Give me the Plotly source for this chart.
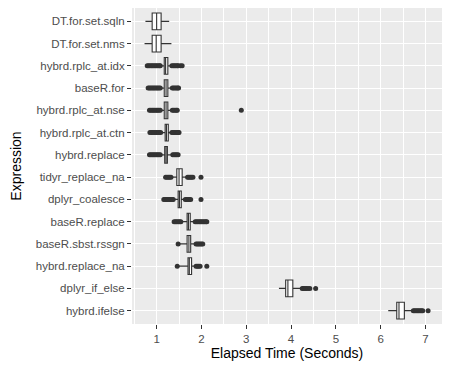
import plotly.graph_objects as go

categories = ["DT.for.set.sqln", "DT.for.set.nms", "hybrd.rplc_at.idx", "baseR.for",
              "hybrd.rplc_at.nse", "hybrd.rplc_at.ctn", "hybrd.replace", "tidyr_replace_na",
              "dplyr_coalesce", "baseR.replace", "baseR.sbst.rssgn", "hybrd.replace_na",
              "dplyr_if_else", "hybrd.ifelse"]

lower_fence = [0.75, 0.73, 1.10, 1.10, 1.10, 1.11, 1.11, 1.36, 1.40, 1.57, 1.48, 1.47, 3.73, 6.17]
q1          = [0.90, 0.90, 1.17, 1.17, 1.17, 1.19, 1.18, 1.45, 1.48, 1.68, 1.68, 1.70, 3.88, 6.36]
median      = [1.00, 0.99, 1.20, 1.21, 1.21, 1.22, 1.21, 1.50, 1.51, 1.71, 1.72, 1.73, 3.93, 6.41]
q3          = [1.10, 1.10, 1.25, 1.25, 1.25, 1.26, 1.24, 1.57, 1.55, 1.75, 1.76, 1.78, 4.04, 6.53]
upper_fence = [1.28, 1.33, 1.31, 1.32, 1.32, 1.31, 1.33, 1.67, 1.62, 1.83, 1.86, 1.86, 4.22, 6.70]

outliers = {
    "DT.for.set.sqln": [],
    "DT.for.set.nms": [],
    "hybrd.rplc_at.idx": [0.79, 0.82, 0.85, 0.88, 0.91, 0.94, 0.97, 1.00, 1.03, 1.06, 1.08,
                          1.34, 1.37, 1.40, 1.43, 1.46, 1.48, 1.53, 1.57],
    "baseR.for": [0.81, 0.84, 0.87, 0.90, 0.93, 0.96, 0.99, 1.02, 1.05, 1.08,
                  1.35, 1.38, 1.41, 1.44, 1.47, 1.49],
    "hybrd.rplc_at.nse": [0.84, 0.87, 0.90, 0.93, 0.96, 0.99, 1.02, 1.05, 1.08,
                          1.35, 1.38, 1.41, 1.44, 1.46, 2.89],
    "hybrd.rplc_at.ctn": [0.85, 0.88, 0.91, 0.94, 0.97, 1.00, 1.03, 1.06, 1.09,
                          1.34, 1.37, 1.40, 1.43, 1.46, 1.48, 1.50],
    "hybrd.replace": [0.84, 0.87, 0.90, 0.93, 0.96, 0.99, 1.02, 1.05, 1.08,
                      1.36, 1.39, 1.42, 1.45, 1.48],
    "tidyr_replace_na": [1.20, 1.23, 1.26, 1.29, 1.32, 1.69, 1.72, 1.75, 1.78, 1.81, 1.99],
    "dplyr_coalesce": [1.16, 1.19, 1.22, 1.25, 1.28, 1.31, 1.34, 1.37,
                       1.64, 1.67, 1.70, 1.73, 1.76, 1.99],
    "baseR.replace": [1.39, 1.42, 1.45, 1.48, 1.51, 1.54, 1.86, 1.89, 1.92, 1.95, 1.98,
                      2.01, 2.04, 2.07, 2.10, 2.12],
    "baseR.sbst.rssgn": [1.48, 1.88, 1.91, 1.94, 1.97, 2.00, 2.03],
    "hybrd.replace_na": [1.46, 1.88, 1.91, 1.94, 1.97, 2.12],
    "dplyr_if_else": [4.25, 4.28, 4.31, 4.34, 4.38, 4.42, 4.55],
    "hybrd.ifelse": [6.73, 6.76, 6.79, 6.82, 6.85, 6.88, 6.91, 6.94, 7.06],
}

x_ticks = [1, 2, 3, 4, 5, 6, 7]

fig = go.Figure()
fig.add_trace(go.Box(
    y=categories, q1=q1, median=median, q3=q3,
    lowerfence=lower_fence, upperfence=upper_fence,
    orientation="h", boxpoints=False, whiskerwidth=0, width=0.75,
    fillcolor="white", line=dict(color="#333333", width=1.1),
    showlegend=False,
))

ox, oy = [], []
for c in categories:
    for v in outliers[c]:
        ox.append(v)
        oy.append(c)
fig.add_trace(go.Scatter(
    x=ox, y=oy, mode="markers",
    marker=dict(color="#333333", size=5, line=dict(width=0)),
    showlegend=False,
))

fig.update_layout(
    width=442, height=362,
    margin=dict(l=124, r=8, t=0, b=46),
    paper_bgcolor="white", plot_bgcolor="#EBEBEB",
    font=dict(family="Liberation Sans, Arial, sans-serif", color="#000000"),
)
fig.update_xaxes(
    automargin=False,
    range=[0.45, 7.37], tickvals=x_ticks, ticktext=[str(t) for t in x_ticks],
    showgrid=True, gridcolor="white", gridwidth=1.1, zeroline=False, showline=False,
    ticks="outside", ticklen=4, tickcolor="#333333", tickwidth=1,
    tickfont=dict(size=11.5, color="#4D4D4D"),
    minor=dict(dtick=0.5, tick0=0.5, showgrid=True, gridcolor="white", gridwidth=0.5, ticks=""),
    title=dict(text="Elapsed Time (Seconds)", font=dict(size=14, color="#000000"), standoff=4),
)
fig.update_yaxes(
    automargin=False,
    type="category", categoryorder="array", categoryarray=categories[::-1],
    range=[-0.6, len(categories) - 0.4],
    showgrid=True, gridcolor="white", gridwidth=1.1, zeroline=False, showline=False,
    ticks="outside", ticklen=4, tickcolor="#333333", tickwidth=1,
    tickfont=dict(size=11.5, color="#4D4D4D"),
    title=dict(text="Expression", font=dict(size=14, color="#000000"), standoff=14),
)

fig.write_html("out.html")
